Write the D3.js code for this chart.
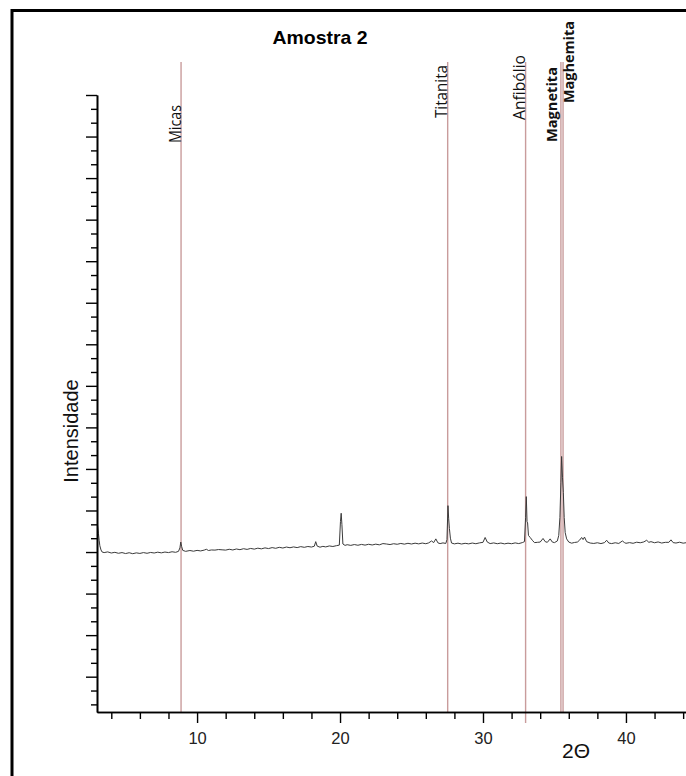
<!DOCTYPE html>
<html>
<head>
<meta charset="utf-8">
<script src="https://cdn.jsdelivr.net/npm/d3@7"></script>
<style>
  html, body { margin: 0; padding: 0; background: #fff; }
  svg { display: block; }
</style>
</head>
<body>
<svg id="chart" width="686" height="776"></svg>
<script>
// ---------------- DATA ----------------
const title = "Amostra 2";
const xLabel = "2\u0398";
const yLabel = "Intensidade";

const xMajorTicks = [10, 20, 30, 40];
const xMinorTicks = [4, 6, 8, 12, 14, 16, 18, 22, 24, 26, 28, 32, 34, 36, 38, 42, 44];
const yMajorTicks = [300, 600, 900, 1200, 1500, 1800, 2100, 2400, 2700, 3000, 3300, 3600, 3900, 4200, 4500];
const yMinorTicks = [100, 200, 400, 500, 700, 800, 1000, 1100, 1300, 1400, 1600, 1700, 1900, 2000, 2200, 2300,
  2500, 2600, 2800, 2900, 3100, 3200, 3400, 3500, 3700, 3800, 4000, 4100, 4300, 4400];

const phaseNames = ["Micas", "Titanita", "Anfibólio", "Magnetita", "Maghemita"];
const phasePositions = [8.88, 27.53, 32.98, 35.45, 35.6];
const phaseBold = [false, false, false, true, true];

const twoTheta = [
  3.00, 3.05, 3.10, 3.15, 3.20, 3.28, 3.36, 3.5, 3.75, 4.0, 4.25, 4.5, 4.75, 5.0, 5.25, 5.5, 5.75, 6.0,
  6.25, 6.5, 6.75, 7.0, 7.25, 7.5, 7.75, 8.0, 8.25, 8.5, 8.7, 8.8, 8.86, 8.92, 9.0, 9.2, 9.5, 9.75,
  10.0, 10.25, 10.5, 10.65, 10.8, 11.0, 11.25, 11.5, 11.75, 12.0, 12.25, 12.5, 12.75, 13.0, 13.25, 13.5,
  13.75, 14.0, 14.25, 14.5, 14.75, 15.0, 15.25, 15.5, 15.75, 16.0, 16.25, 16.5, 16.75, 17.0, 17.25, 17.5,
  17.75, 18.0, 18.2, 18.3, 18.4, 18.6, 18.8, 19.0, 19.25, 19.5, 19.75, 19.95, 20.03, 20.08, 20.13, 20.2,
  20.35, 20.5, 20.75, 21.0, 21.25, 21.5, 21.75, 22.0, 22.25, 22.5, 22.75, 23.0, 23.25, 23.5, 23.75, 24.0,
  24.25, 24.5, 24.75, 25.0, 25.25, 25.5, 25.75, 26.0, 26.2, 26.4, 26.55, 26.7, 26.85, 27.0, 27.2, 27.4,
  27.48, 27.55, 27.6, 27.65, 27.72, 27.8, 28.0, 28.25, 28.5, 28.75, 29.0, 29.25, 29.5, 29.75, 30.0, 30.15,
  30.3, 30.5, 30.75, 31.0, 31.25, 31.5, 31.75, 32.0, 32.25, 32.5, 32.75, 32.9, 32.98, 33.03, 33.08, 33.12,
  33.18, 33.3, 33.45, 33.6, 33.8, 34.0, 34.2, 34.35, 34.5, 34.7, 34.85, 35.0, 35.2, 35.3, 35.38, 35.45,
  35.5, 35.56, 35.62, 35.68, 35.75, 35.85, 36.0, 36.2, 36.4, 36.6, 36.75, 36.9, 37.0, 37.1, 37.25, 37.5,
  37.75, 38.0, 38.25, 38.5, 38.65, 38.8, 39.0, 39.25, 39.5, 39.75, 39.9, 40.0, 40.25, 40.5, 40.75, 41.0,
  41.25, 41.45, 41.6, 41.75, 42.0, 42.25, 42.5, 42.75, 43.0, 43.15, 43.3, 43.5, 43.75, 44.0, 44.25
];
const intensity = [
  1425, 1385, 1335, 1285, 1245, 1215, 1200, 1196, 1201, 1193, 1198, 1191, 1196, 1189, 1195, 1188, 1194, 1190,
  1196, 1191, 1197, 1193, 1199, 1194, 1200, 1196, 1202, 1198, 1205, 1230, 1272, 1240, 1212, 1205, 1211, 1206,
  1212, 1208, 1214, 1220, 1211, 1215, 1214, 1218, 1216, 1214, 1220, 1215, 1222, 1217, 1224, 1219,
  1226, 1221, 1228, 1223, 1230, 1225, 1232, 1227, 1234, 1229, 1236, 1231, 1237, 1232, 1239, 1234,
  1240, 1236, 1242, 1275, 1243, 1235, 1241, 1237, 1244, 1240, 1246, 1250, 1420, 1480, 1400, 1258,
  1248, 1253, 1248, 1254, 1249, 1255, 1250, 1256, 1251, 1257, 1252, 1261, 1258, 1254, 1260, 1256,
  1262, 1257, 1263, 1258, 1264, 1259, 1265, 1260, 1266, 1280, 1268, 1295, 1266, 1261, 1266, 1262,
  1290, 1535, 1440, 1370, 1300, 1265, 1259, 1264, 1258, 1263, 1259, 1265, 1260, 1266, 1270, 1305,
  1272, 1261, 1266, 1260, 1265, 1259, 1264, 1260, 1266, 1261, 1268, 1275, 1450, 1600, 1420, 1410,
  1320, 1305, 1285, 1268, 1270, 1272, 1298, 1275, 1270, 1295, 1272, 1268, 1280, 1320, 1450, 1700,
  1890, 1740, 1630, 1450, 1340, 1295, 1272, 1264, 1269, 1272, 1285, 1305, 1290, 1308, 1275, 1265,
  1262, 1267, 1261, 1268, 1285, 1265, 1261, 1267, 1262, 1280, 1268, 1263, 1268, 1263, 1271, 1267,
  1273, 1285, 1270, 1275, 1267, 1273, 1265, 1270, 1270, 1288, 1268, 1265, 1271, 1264, 1268
];

// ---------------- LAYOUT ----------------
const plot = { left: 97, right: 686, top: 95, bottom: 712 };
const xDomain = [3, 44.2];
const yDomain = [45, 4500];
// label layout (not data): baseline offset from line, start y of rotated text, text length, extra line length below axis
const labelDx = [0, -0.5, -1, -4, 10.5];
const labelStartY = [143, 118, 120, 142, 103];
const labelLength = [38, 53, 65, 75, 82];
const lineBelowAxis = [0, 0, 11, 0, 0];
const lineTop = 62;

const svg = d3.select("#chart");

// frame
svg.append("rect")
  .attr("x", 12).attr("y", 10.5)
  .attr("width", 720).attr("height", 800)
  .attr("fill", "none").attr("stroke", "#000").attr("stroke-width", 3);

const x = d3.scaleLinear().domain(xDomain).range([plot.left, plot.right]);
const y = d3.scaleLinear().domain(yDomain).range([plot.bottom, plot.top]);

// phase reference lines
const phases = phaseNames.map((n, i) => ({ name: n, pos: phasePositions[i], bold: phaseBold[i], i }));
svg.append("g").selectAll("line").data(phases).join("line")
  .attr("x1", d => x(d.pos)).attr("x2", d => x(d.pos))
  .attr("y1", lineTop).attr("y2", d => plot.bottom + lineBelowAxis[d.i])
  .attr("stroke", "#c99c9c").attr("stroke-width", 1.4);

// phase labels
svg.append("g").selectAll("text").data(phases).join("text")
  .attr("transform", d => `translate(${x(d.pos) + labelDx[d.i]},${labelStartY[d.i]}) rotate(-90)`)
  .attr("text-anchor", "start")
  .attr("font-family", "'Open Sans', sans-serif")
  .attr("font-size", d => d.bold ? 14.5 : 16.5)
  .attr("font-weight", d => d.bold ? "bold" : "normal")
  .attr("textLength", d => labelLength[d.i])
  .attr("lengthAdjust", "spacingAndGlyphs")
  .attr("fill", "#111")
  .text(d => d.name);

// diffractogram trace
const pts = twoTheta.map((t, i) => [t, intensity[i]]);
svg.append("defs").append("clipPath").attr("id", "clip")
  .append("rect").attr("x", plot.left).attr("y", plot.top).attr("width", plot.right - plot.left).attr("height", plot.bottom - plot.top);
svg.append("path")
  .datum(pts)
  .attr("clip-path", "url(#clip)")
  .attr("fill", "none")
  .attr("stroke", "#3a3a3a")
  .attr("stroke-width", 1)
  .attr("d", d3.line().x(d => x(d[0])).y(d => y(d[1])));

// axes
const axisStyle = g => {
  g.selectAll(".domain").attr("stroke", "#000").attr("stroke-width", 1.6);
  g.selectAll(".tick line").attr("stroke", "#000").attr("stroke-width", 1.4);
};

svg.append("g")
  .attr("transform", `translate(0,${plot.bottom})`)
  .call(d3.axisBottom(x).tickValues(xMinorTicks).tickSize(7).tickSizeOuter(0).tickFormat(""))
  .call(axisStyle);
const xMaj = svg.append("g")
  .attr("transform", `translate(0,${plot.bottom})`)
  .call(d3.axisBottom(x).tickValues(xMajorTicks).tickSize(11).tickSizeOuter(0).tickPadding(9).tickFormat(d3.format("d")))
  .call(axisStyle);
xMaj.selectAll("text").attr("font-family", "Arial, 'Liberation Sans', sans-serif").attr("font-size", 16.5).attr("fill", "#222");

svg.append("g")
  .attr("transform", `translate(${plot.left},0)`)
  .call(d3.axisLeft(y).tickValues(yMinorTicks).tickSize(6).tickSizeOuter(0).tickFormat(""))
  .call(axisStyle);
svg.append("g")
  .attr("transform", `translate(${plot.left},0)`)
  .call(d3.axisLeft(y).tickValues(yMajorTicks).tickSize(11).tickSizeOuter(0).tickFormat(""))
  .call(axisStyle);

// title
svg.append("text")
  .attr("x", 320).attr("y", 44)
  .attr("text-anchor", "middle")
  .attr("font-family", "Arial, 'Liberation Sans', sans-serif")
  .attr("font-weight", "bold").attr("font-size", 18)
  .attr("transform", "translate(320,0) scale(1.08,1) translate(-320,0)")
  .attr("fill", "#000")
  .text(title);

// axis titles
svg.append("text")
  .attr("transform", "translate(78,431) rotate(-90)")
  .attr("text-anchor", "middle")
  .attr("font-family", "Arial, 'Liberation Sans', sans-serif")
  .attr("font-size", 20).attr("fill", "#111")
  .text(yLabel);

svg.append("text")
  .attr("x", 576).attr("y", 758)
  .attr("text-anchor", "middle")
  .attr("font-family", "Arial, 'Liberation Sans', sans-serif")
  .attr("font-size", 21).attr("fill", "#111")
  .text(xLabel);
</script>
</body>
</html>
